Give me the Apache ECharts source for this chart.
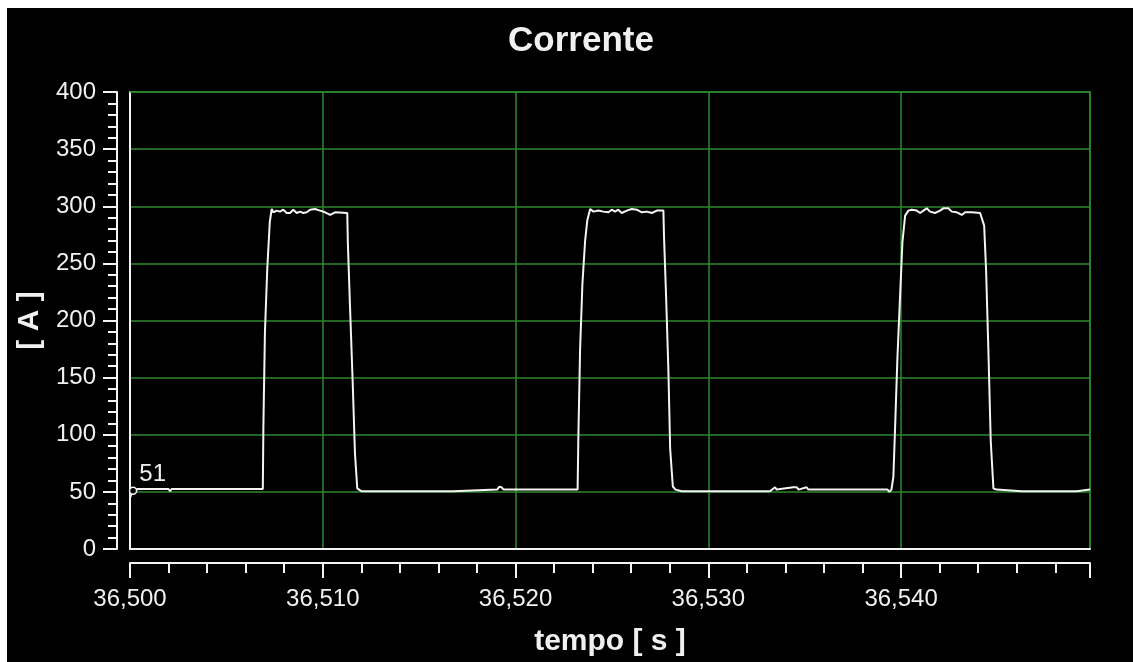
<!DOCTYPE html>
<html>
<head>
<meta charset="utf-8">
<script src="https://cdn.jsdelivr.net/npm/echarts@6/dist/echarts.min.js"></script>
<style>
  html, body { margin: 0; padding: 0; background: #ffffff; width: 1133px; height: 662px; overflow: hidden; }
  #chart { position: absolute; left: 7px; top: 8px; width: 1126px; height: 654px; background: #000000; }
</style>
</head>
<body>
<div id="chart"></div>
<script>
// ---- data ----
const chartTitle = 'Corrente';
const xName = 'tempo [ s ]';
const yName = '[ A ]';
const T0 = 36.5;               // seconds, start of window
const xMinSec = 36.5;
const xMaxSec = 36.5498;
const xIntervalSec = 0.01;
const yMin = 0, yMax = 400, yInterval = 50;
const markedIndex = 1;         // point with the "51" readout

// time offsets from T0 in milliseconds
const timeMs = [
  0.00, 0.16, 0.40, 2.00, 2.08, 2.16, 4.75, 4.84, 4.93, 5.70, 5.79, 5.88, 6.89,
  6.92, 7.00, 7.12, 7.25, 7.35,
  7.44, 7.61, 7.78, 7.95, 8.13, 8.30, 8.47, 8.65, 8.82, 8.99, 9.17, 9.34, 9.60, 9.86, 10.12, 10.38, 10.64, 11.27,
  11.30, 11.41, 11.55, 11.67, 11.79,
  12.02, 12.10, 12.37, 12.45, 12.97, 13.05, 14.01, 14.09, 14.44, 14.52, 15.48, 15.56, 16.43, 16.51, 16.77, 16.85,
  19.05, 19.15, 19.28, 19.38, 22.66, 22.74, 22.82, 23.22,
  23.26, 23.35, 23.47, 23.61, 23.72, 23.87,
  24.04, 24.30, 24.56, 24.82, 24.99, 25.16, 25.33, 25.51, 25.77, 26.03, 26.29, 26.55, 26.81, 27.07, 27.33, 27.67,
  27.70, 27.81, 27.93, 28.02, 28.16,
  28.30, 28.62, 28.70, 30.00, 30.08, 30.44, 30.52, 30.78, 30.86, 32.17, 32.25, 33.20, 33.28, 33.46, 33.55,
  34.41, 34.50, 34.59, 34.68, 35.10, 35.19, 39.30, 39.39, 39.50,
  39.60, 39.69, 39.81, 39.95, 40.07, 40.21, 40.38,
  40.55, 40.81, 40.99, 41.16, 41.33, 41.50, 41.76, 42.02, 42.19, 42.45, 42.63, 42.89, 43.15, 43.32, 43.67, 44.10, 44.19,
  44.31, 44.41, 44.53, 44.65, 44.79,
  44.96, 46.26, 46.34, 46.95, 47.03, 48.86, 48.94, 49.11, 49.19, 49.80
];
// current in amperes
const currentA = [
  45, 51, 52.5, 52.5, 50.5, 52.5, 52.5, 54, 52.5, 52.5, 54, 52.5, 52.5,
  108, 190, 245, 286, 297.6,
  294.7, 296.2, 295.3, 297.0, 294.1, 294.1, 297.0, 294.1, 295.3, 294.1, 294.7, 297.0, 297.6, 296.2, 294.7, 292.4, 294.7, 294.1,
  268.7, 213.7, 147, 83.6, 53,
  50.5, 52, 50.5, 52, 50.5, 52, 50.5, 52, 50.5, 52, 50.5, 52, 50.5, 52, 50.5, 52,
  52, 54.5, 54, 52, 52, 50.5, 52, 52,
  100, 176, 232.5, 270, 287.5, 297.6,
  295.3, 296.2, 295.3, 294.7, 297.0, 295.3, 297.0, 294.1, 296.2, 297.6, 297.0, 294.7, 295.3, 294.1, 296.2, 296.2,
  274.5, 221, 156, 88, 54.7,
  52, 50.5, 52, 50.5, 52, 50.5, 52, 50.5, 52, 50.5, 52, 50.5, 52, 54, 52,
  54, 52.5, 54, 52, 54, 52, 52, 50, 52,
  63, 106.7, 167.5, 222.4, 268.7, 291.8, 296.2,
  297.0, 296.2, 294.1, 296.2, 298.2, 295.3, 294.1, 296.2, 298.2, 298.2, 295.3, 294.7, 292.4, 294.7, 294.7, 294.1, 292.4,
  283, 244, 173, 95, 53,
  52, 50.5, 52, 50.5, 52, 50.5, 52, 50.5, 52, 52
];

// ---- chart ----
const FONT = '"Liberation Sans", Arial, sans-serif';
const TXT = '#eef0f2';
const GREEN = '#2c8a2c';
const WHITE = '#f4f4f4';

const seriesData = timeMs.map((ms, i) => {
  const item = { value: [T0 + ms / 1000, currentA[i]] };
  if (i === markedIndex) {
    item.symbol = 'circle';
    item.symbolSize = 7;
    item.itemStyle = { color: '#000000', borderColor: WHITE, borderWidth: 1.5 };
    item.label = {
      show: true, position: 'right', distance: 2, offset: [0, -16],
      formatter: (p) => String(p.value[1]),
      color: TXT, fontSize: 24, fontFamily: FONT
    };
  }
  return item;
});

const fmtSec = (v) => v.toFixed(3).replace('.', ',');

const chart = echarts.init(document.getElementById('chart'), null, { renderer: 'canvas' });
chart.setOption({
  backgroundColor: '#000000',
  animation: false,
  title: {
    text: chartTitle, left: 569, top: 11, textAlign: 'center',
    textStyle: { color: TXT, fontSize: 35, fontWeight: 'bold', fontFamily: FONT }
  },
  grid: { left: 123, right: 43, top: 84, bottom: 109, containLabel: false },
  xAxis: [
    {
      type: 'value', position: 'bottom', offset: 14,
      min: xMinSec, max: xMaxSec, interval: xIntervalSec,
      name: xName, nameLocation: 'middle', nameGap: 64,
      nameTextStyle: { color: TXT, fontSize: 30, fontWeight: 'bold', fontFamily: FONT },
      axisLine: { show: true, onZero: false, lineStyle: { color: WHITE, width: 2 } },
      axisTick: { show: true, length: 15, lineStyle: { color: WHITE, width: 2 } },
      minorTick: { show: true, splitNumber: 5, length: 10, lineStyle: { color: WHITE, width: 2 } },
      axisLabel: { color: TXT, fontSize: 24, fontFamily: FONT, margin: 24, formatter: fmtSec, showMaxLabel: false },
      splitLine: { show: true, lineStyle: { color: GREEN, width: 1.5 } }
    },
    {
      type: 'value', position: 'bottom', offset: 0, min: xMinSec, max: xMaxSec,
      axisLine: { show: true, onZero: false, lineStyle: { color: WHITE, width: 2 } },
      axisTick: { show: false }, axisLabel: { show: false }, splitLine: { show: false }
    },
    {
      type: 'value', position: 'top', offset: 0, min: xMinSec, max: xMaxSec,
      axisLine: { show: true, onZero: false, lineStyle: { color: GREEN, width: 1.5 } },
      axisTick: { show: false }, axisLabel: { show: false }, splitLine: { show: false }
    }
  ],
  yAxis: [
    {
      type: 'value', position: 'left', offset: 13,
      min: yMin, max: yMax, interval: yInterval,
      name: yName, nameLocation: 'middle', nameGap: 71, nameRotate: 90,
      nameTextStyle: { color: TXT, fontSize: 30, fontWeight: 'bold', fontFamily: FONT },
      axisLine: { show: true, onZero: false, lineStyle: { color: WHITE, width: 2 } },
      axisTick: { show: true, length: 14, lineStyle: { color: WHITE, width: 2 } },
      minorTick: { show: true, splitNumber: 5, length: 9, lineStyle: { color: WHITE, width: 2 } },
      axisLabel: { color: TXT, fontSize: 24, fontFamily: FONT, margin: 21 },
      splitLine: { show: true, lineStyle: { color: GREEN, width: 1.5 } }
    },
    {
      type: 'value', position: 'left', offset: 0, min: yMin, max: yMax,
      axisLine: { show: true, onZero: false, lineStyle: { color: WHITE, width: 2 } },
      axisTick: { show: false }, axisLabel: { show: false }, splitLine: { show: false }
    },
    {
      type: 'value', position: 'right', offset: 0, min: yMin, max: yMax,
      axisLine: { show: true, onZero: false, lineStyle: { color: GREEN, width: 1.5 } },
      axisTick: { show: false }, axisLabel: { show: false }, splitLine: { show: false }
    }
  ],
  series: [{
    type: 'line', xAxisIndex: 0, yAxisIndex: 0,
    data: seriesData,
    showSymbol: true, symbol: 'none',
    itemStyle: { color: WHITE },
    lineStyle: { color: WHITE, width: 2 },
    z: 5
  }]
});
</script>
</body>
</html>
